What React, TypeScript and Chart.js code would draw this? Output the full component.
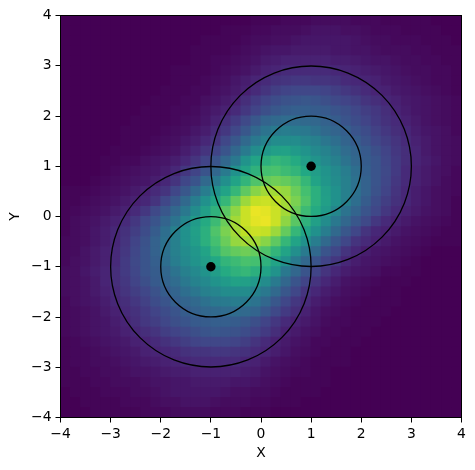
import React, { useEffect, useRef } from "react";
import { Chart, registerables } from "chart.js";

Chart.register(...registerables);

// Histogram cell centres (coarsened grid)
const xCells = [-3.9,-3.7,-3.5,-3.3,-3.1,-2.9,-2.7,-2.5,-2.3,-2.1,-1.9,-1.7,-1.5,-1.3,-1.1,-0.9,-0.7,-0.5,-0.3,-0.1,0.1,0.3,0.5,0.7,0.9,1.1,1.3,1.5,1.7,1.9,2.1,2.3,2.5,2.7,2.9,3.1,3.3,3.5,3.7,3.9];
const yCells = [3.9,3.7,3.5,3.3,3.1,2.9,2.7,2.5,2.3,2.1,1.9,1.7,1.5,1.3,1.1,0.9,0.7,0.5,0.3,0.1,-0.1,-0.3,-0.5,-0.7,-0.9,-1.1,-1.3,-1.5,-1.7,-1.9,-2.1,-2.3,-2.5,-2.7,-2.9,-3.1,-3.3,-3.5,-3.7,-3.9];

// Relative density (percent of the colour range), top row first
const density = [
[0,0,0,0,0,0,0,0,0,0,0,0,0,0,0,0,0,0,0,1,1,1,2,2,2,3,3,3,3,2,2,2,1,1,1,1,1,0,0,0],
[0,0,0,0,0,0,0,0,0,0,0,0,0,0,0,0,1,1,1,2,2,3,3,3,4,5,5,5,4,4,3,2,2,2,1,1,1,1,0,0],
[0,0,0,0,0,0,0,0,0,0,0,0,0,0,1,1,1,1,2,3,3,4,4,5,6,6,6,6,6,5,4,3,3,2,2,2,1,1,1,0],
[0,0,0,0,0,0,0,0,0,0,0,0,0,1,1,1,1,2,3,4,5,6,6,7,7,7,7,6,6,5,5,4,3,3,3,2,2,1,1,1],
[0,0,0,0,0,0,0,0,0,0,0,0,0,1,1,2,2,3,4,5,7,8,9,9,9,9,9,8,8,7,6,5,5,4,3,3,2,2,1,1],
[0,0,0,0,0,0,0,0,0,0,0,1,1,1,1,2,3,4,5,7,9,10,12,12,12,12,12,11,10,9,8,7,6,5,4,3,3,2,2,1],
[0,0,0,0,0,0,0,0,0,0,0,1,1,1,2,3,4,6,8,10,12,14,15,16,16,15,15,14,12,11,10,9,7,6,5,4,3,2,2,1],
[0,0,0,0,0,0,0,0,0,0,1,1,1,2,2,4,5,7,9,12,15,18,20,21,21,21,20,18,16,14,12,10,9,7,6,5,4,3,2,1],
[0,0,0,0,0,0,0,0,0,1,1,1,2,2,4,5,7,9,13,17,20,23,25,26,27,26,24,22,20,18,15,13,11,9,7,6,5,4,3,2],
[0,0,0,0,0,0,0,0,1,1,1,2,2,3,5,7,9,12,16,20,24,27,29,30,30,29,28,26,24,21,18,16,13,10,8,6,5,4,3,2],
[0,0,0,0,0,0,0,1,1,1,1,2,3,4,6,9,13,17,22,27,32,34,35,35,34,33,31,29,26,23,20,17,14,12,9,7,5,4,3,2],
[0,0,0,0,0,0,1,1,1,1,2,3,4,6,8,12,16,21,27,33,38,41,42,41,40,37,34,32,30,26,23,19,16,13,11,8,6,5,4,2],
[0,0,0,0,0,0,1,1,1,2,3,4,6,8,11,15,21,27,34,40,44,48,48,48,45,43,39,36,32,29,25,21,18,15,12,9,7,5,4,3],
[0,0,0,0,0,1,1,1,2,3,4,5,8,11,15,20,26,33,41,48,53,56,57,54,51,47,44,40,35,32,28,24,20,16,13,10,7,5,4,3],
[0,0,0,0,1,1,2,2,4,5,6,8,11,15,20,26,33,40,51,58,63,66,64,61,55,51,47,43,38,33,29,26,21,17,13,10,8,6,4,3],
[0,0,0,0,1,2,3,4,5,6,8,11,16,20,26,33,41,50,58,64,70,71,68,65,60,55,51,47,42,36,30,26,22,17,12,9,7,5,4,2],
[0,0,0,1,2,3,4,5,6,8,11,15,21,26,34,41,49,58,65,72,76,78,76,73,66,58,52,48,43,37,31,26,21,16,12,9,7,5,3,2],
[1,1,1,2,3,4,5,7,9,12,15,21,27,34,42,50,58,66,75,82,86,86,84,77,70,63,55,50,43,37,31,25,20,15,11,8,6,4,3,2],
[1,1,2,3,4,5,7,9,11,15,21,27,34,42,50,58,66,76,85,91,92,90,86,80,72,63,56,50,43,36,29,23,18,14,11,8,6,4,3,1],
[1,2,3,4,5,7,9,12,16,22,27,33,40,48,56,64,74,83,92,97,96,92,86,77,68,61,54,46,38,32,26,21,16,12,9,7,5,4,3,1],
[1,3,4,5,7,9,12,16,21,26,32,38,46,54,61,68,77,86,92,96,97,92,83,74,64,56,48,40,33,27,22,16,12,9,7,5,4,3,2,1],
[1,3,4,6,8,11,14,18,23,29,36,43,50,56,63,72,80,86,90,92,91,85,76,66,58,50,42,34,27,21,15,11,9,7,5,4,3,2,1,1],
[2,3,4,6,8,11,15,20,25,31,37,43,50,55,63,70,77,84,86,86,82,75,66,58,50,42,34,27,21,15,12,9,7,5,4,3,2,1,1,1],
[2,3,5,7,9,12,16,21,26,31,37,43,48,52,58,66,73,76,78,76,72,65,58,49,41,34,26,21,15,11,8,6,5,4,3,2,1,0,0,0],
[2,4,5,7,9,12,17,22,26,30,36,42,47,51,55,60,65,68,71,70,64,58,50,41,33,26,20,16,11,8,6,5,4,3,2,1,0,0,0,0],
[3,4,6,8,10,13,17,21,26,29,33,38,43,47,51,55,61,64,66,63,58,51,40,33,26,20,15,11,8,6,5,4,2,2,1,1,0,0,0,0],
[3,4,5,7,10,13,16,20,24,28,32,35,40,44,47,51,54,57,56,53,48,41,33,26,20,15,11,8,5,4,3,2,1,1,1,0,0,0,0,0],
[3,4,5,7,9,12,15,18,21,25,29,32,36,39,43,45,48,48,48,44,40,34,27,21,15,11,8,6,4,3,2,1,1,1,0,0,0,0,0,0],
[2,4,5,6,8,11,13,16,19,23,26,30,32,34,37,40,41,42,41,38,33,27,21,16,12,8,6,4,3,2,1,1,1,1,0,0,0,0,0,0],
[2,3,4,5,7,9,12,14,17,20,23,26,29,31,33,34,35,35,34,32,27,22,17,13,9,6,4,3,2,1,1,1,1,0,0,0,0,0,0,0],
[2,3,4,5,6,8,10,13,16,18,21,24,26,28,29,30,30,29,27,24,20,16,12,9,7,5,3,2,2,1,1,1,0,0,0,0,0,0,0,0],
[2,3,4,5,6,7,9,11,13,15,18,20,22,24,26,27,26,25,23,20,17,13,9,7,5,4,2,2,1,1,1,0,0,0,0,0,0,0,0,0],
[1,2,3,4,5,6,7,9,10,12,14,16,18,20,21,21,21,20,18,15,12,9,7,5,4,2,2,1,1,1,0,0,0,0,0,0,0,0,0,0],
[1,2,2,3,4,5,6,7,9,10,11,12,14,15,15,16,16,15,14,12,10,8,6,4,3,2,1,1,1,0,0,0,0,0,0,0,0,0,0,0],
[1,2,2,3,3,4,5,6,7,8,9,10,11,12,12,12,12,12,10,9,7,5,4,3,2,1,1,1,1,0,0,0,0,0,0,0,0,0,0,0],
[1,1,2,2,3,3,4,5,5,6,7,8,8,9,9,9,9,9,8,7,5,4,3,2,2,1,1,0,0,0,0,0,0,0,0,0,0,0,0,0],
[1,1,1,2,2,3,3,3,4,5,5,6,6,7,7,7,7,6,6,5,4,3,2,1,1,1,1,0,0,0,0,0,0,0,0,0,0,0,0,0],
[0,1,1,1,2,2,2,3,3,4,5,6,6,6,6,6,5,4,4,3,3,2,1,1,1,1,0,0,0,0,0,0,0,0,0,0,0,0,0,0],
[0,0,1,1,1,1,2,2,2,3,4,4,5,5,5,4,3,3,3,2,2,1,1,1,0,0,0,0,0,0,0,0,0,0,0,0,0,0,0,0],
[0,0,0,1,1,1,1,1,2,2,2,3,3,3,3,2,2,2,1,1,1,0,0,0,0,0,0,0,0,0,0,0,0,0,0,0,0,0,0,0],
];

// Means and the circles around them
const meanX = [-1, 1];
const meanY = [-1, 1];
const circleRadii = [1, 2];
const axisTicks = [-4, -3, -2, -1, 0, 1, 2, 3, 4];

const viridisStops = ["#440154","#482475","#414487","#355f8d","#2a788e","#21918c","#22a884","#44bf70","#7ad151","#bddf26","#fde725"];

function hexToRgb(hex: string) {
  return [1, 3, 5].map((p) => parseInt(hex.slice(p, p + 2), 16));
}

function viridis(pct: number) {
  const t = Math.min(1, Math.max(0, pct / 100)) * (viridisStops.length - 1);
  const i = Math.min(viridisStops.length - 2, Math.floor(t));
  const a = hexToRgb(viridisStops[i]);
  const b = hexToRgb(viridisStops[i + 1]);
  const f = t - i;
  return `rgb(${a.map((c, k) => Math.round(c + (b[k] - c) * f)).join(",")})`;
}

const frame = {
  id: "frame",
  afterDatasetsDraw(chart: any) {
    const { ctx, chartArea: a } = chart;
    ctx.save();
    ctx.strokeStyle = "#000";
    ctx.lineWidth = 1;
    ctx.strokeRect(Math.floor(a.left) + 0.5, Math.floor(a.top) + 0.5, a.right - a.left, a.bottom - a.top);
    ctx.restore();
  },
};

const FONT = "'DejaVu Sans'";

export default function App() {
  const ref = useRef<HTMLCanvasElement>(null);
  useEffect(() => {
    document.body.style.margin = "0";
    document.body.style.background = "#fff";
    const cells = density.flatMap((row, r) =>
      row.map((v, c) => ({ x: xCells[c], y: yCells[r], v }))
    );
    const circles = circleRadii.flatMap((R) =>
      meanX.map((x, i) => ({ x, y: meanY[i], R }))
    );
    const means = meanX.map((x, i) => ({ x, y: meanY[i] }));
    const axis = (title: string, afterFit: (s: any) => void, titlePad: any) => ({
      type: "linear" as const,
      min: -4,
      max: 4,
      afterFit,
      afterBuildTicks: (s: any) => {
        s.ticks = axisTicks.map((value) => ({ value }));
      },
      title: {
        display: true,
        text: title,
        color: "#000",
        padding: titlePad,
        font: { family: FONT, size: 13.9 },
      },
      border: { display: false },
      grid: { drawOnChartArea: false, drawTicks: true, tickLength: 5, tickColor: "#000", tickWidth: 1 },
      ticks: {
        color: "#000",
        padding: 4,
        maxRotation: 0,
        autoSkip: false,
        font: { family: FONT, size: 13.9 },
        callback: (v: any) => String(v).replace("-", "\u2212"),
      },
    });
    const chart = new Chart(ref.current!, {
      type: "scatter",
      data: {
        datasets: [
          {
            data: means,
            order: 0,
            pointStyle: "circle",
            pointRadius: 4.7,
            pointBackgroundColor: "#000",
            pointBorderWidth: 0,
          },
          {
            data: circles,
            order: 1,
            pointStyle: "circle",
            pointBackgroundColor: "rgba(0,0,0,0)",
            pointBorderColor: "#000",
            pointBorderWidth: 1.3,
            pointRadius: (ctx: any) => {
              const s = ctx.chart.scales.x;
              const R = ctx.raw ? ctx.raw.R : 1;
              return Math.abs(s.getPixelForValue(R) - s.getPixelForValue(0));
            },
          },
          {
            data: cells,
            order: 2,
            clip: 0,
            pointStyle: "rect",
            pointRadius: 7.7,
            pointBorderWidth: 0,
            pointBackgroundColor: (ctx: any) => viridis(ctx.raw ? ctx.raw.v : 0),
          },
        ] as any,
      },
      options: {
        responsive: false,
        animation: false,
        events: [],
        layout: { padding: { left: 0, top: 15.5, right: 13.5, bottom: 0 } },
        plugins: { legend: { display: false }, tooltip: { enabled: false } },
        scales: {
          x: axis("X", (s: any) => { s.height = 52.5; }, { top: 0, bottom: 8.5 }),
          y: axis("Y", (s: any) => { s.width = 60.5; }, { top: 7, bottom: 0 }),
        },
      },
      plugins: [frame],
    } as any);
    return () => chart.destroy();
  }, []);
  return (
    <div style={{ position: "absolute", left: 0, top: 0, width: 475, height: 470 }}>
      <canvas ref={ref} width={475} height={470} style={{ display: "block" }} />
    </div>
  );
}
